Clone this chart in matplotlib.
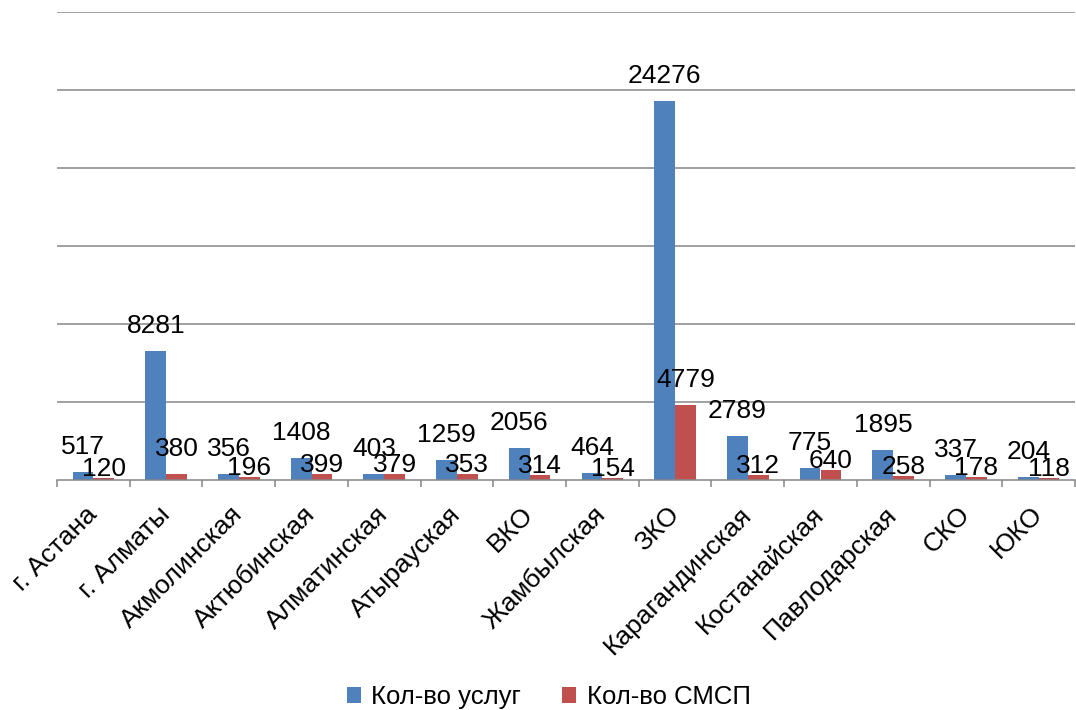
import matplotlib
matplotlib.use("Agg")
import matplotlib.pyplot as plt
import numpy as np

categories = ["г. Астана", "г. Алматы", "Акмолинская", "Актюбинская", "Алматинская",
              "Атырауская", "ВКО", "Жамбылская", "ЗКО", "Карагандинская",
              "Костанайская", "Павлодарская", "СКО", "ЮКО"]
services = [517, 8281, 356, 1408, 403, 1259, 2056, 464, 24276, 2789, 775, 1895, 337, 204]
smsp = [120, 380, 196, 399, 379, 353, 314, 154, 4779, 312, 640, 258, 178, 118]
series_names = ["Кол-во услуг", "Кол-во СМСП"]

plt.rcParams['font.family'] = ['Liberation Sans', 'DejaVu Sans']
FS = 19

fig = plt.figure(figsize=(10.76, 7.10), dpi=100)
ax = fig.add_axes([57/1076, 1 - 480/710, (1075 - 57)/1076, (480 - 12)/710])

x = np.arange(len(categories))
w = 0.285
blue = "#4F81BD"
red = "#C0504D"
grid_c = "#868686"

b1 = ax.bar(x - w/2, services, w, color=blue, label=series_names[0], zorder=3)
b2 = ax.bar(x + w/2, smsp, w, color=red, label=series_names[1], zorder=3)

ax.set_xlim(-0.5, len(categories) - 0.5)
ax.set_ylim(0, 30000)
ax.set_yticks(np.arange(5000, 30001, 5000))
ax.yaxis.grid(True, color=grid_c, linewidth=1.1, zorder=0)
ax.tick_params(axis='y', length=0, labelleft=False)
for s in ['left', 'right', 'top']:
    ax.spines[s].set_visible(False)
ax.spines['bottom'].set_color(grid_c)
ax.spines['bottom'].set_linewidth(1.1)
ax.spines['bottom'].set_zorder(4)

ax.set_xticks(x)
ax.set_xticklabels(categories, rotation=45, ha='right', va='center',
                   rotation_mode='anchor', fontsize=FS)
ax.tick_params(axis='x', which='major', length=0, pad=22)
ax.set_xticks(np.arange(-0.5, len(categories), 1.0), minor=True)
ax.tick_params(axis='x', which='minor', length=5, width=1.1, color=grid_c)

px = 72 / fig.dpi  # points per pixel
for i in range(len(categories)):
    ax.annotate(str(services[i]), (x[i] - w/2, services[i]),
                xytext=(0, 18 * px), textcoords='offset points',
                ha='center', va='baseline', fontsize=FS, zorder=5)
    if services[i] - smsp[i] > 3000:
        off = 18 * px
    else:
        off = 2 * px
    ax.annotate(str(smsp[i]), (x[i] + w/2, smsp[i]),
                xytext=(0, off), textcoords='offset points',
                ha='center', va='baseline', fontsize=FS, zorder=5)

fig.legend(handles=[b1, b2], labels=series_names, loc='center',
           bbox_to_anchor=(0.51, 1 - 697/710), ncol=2, frameon=False,
           fontsize=18.5, handlelength=0.55, handleheight=0.55,
           handletextpad=0.4, columnspacing=1.6)

fig.savefig("out.png", dpi=100)
